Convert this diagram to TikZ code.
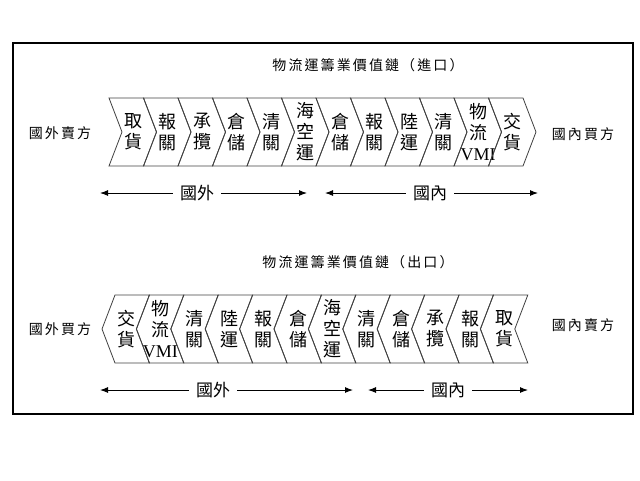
\documentclass[tikz,border=0pt]{standalone}
\usepackage{fontspec}
\newfontfamily\cjk{Noto Sans CJK TC}
\newfontfamily\cjksp[LetterSpace=15]{Noto Sans CJK TC}
\newfontfamily\vmifont{Liberation Serif}
\usetikzlibrary{arrows.meta}
\begin{document}
\begin{tikzpicture}[x=1pt, y=-1pt,
  chev/.style={draw=black!75, line width=0.8pt},
  stage/.style={font=\cjk\fontsize{18}{21}\selectfont, align=center, inner sep=0pt},
  party/.style={font=\cjksp\fontsize{14}{16}\selectfont, inner sep=0pt},
  heading/.style={font=\cjksp\fontsize{14}{16}\selectfont, inner sep=0pt},
  zone/.style={font=\cjk\fontsize{17}{19}\selectfont, inner xsep=7pt},
  span/.style={-{Latex[length=8pt,width=6pt]}, line width=1pt},
  ]
 \useasboundingbox (0,0) rectangle (640,480);
 \draw[line width=1.5pt] (13,43) rectangle (633,414);

 % import chain
 \node[heading] (titleimp) at (368,65) {物流運籌業價值鏈（進口）};
 \node[party] (sellerimp) at (60,133) {國外賣方};
 \node[party] (buyerimp) at (583,134) {國內買方};
 \foreach \lbl [count=\i] in {{取\\貨},{報\\關},{承\\攬},{倉\\儲},{清\\關},{海\\空\\運},{倉\\儲},{報\\關},{陸\\運},{清\\關},{物\\流\\{\vmifont VMI}},{交\\貨}} {
   \pgfmathsetmacro\xo{109+34.5*(\i-1)}
   \draw[chev] (\xo,98) -- ++(34.5,0) -- ++(13,34) -- ++(-13,34) -- ++(-34.5,0) -- ++(13,-34) -- cycle;
   \node[stage] (imp\i) at (\xo+24,132) {\lbl};
 }
 \node[zone] (abroadimp) at (197,193) {國外};
 \node[zone] (homeimp) at (430,193) {國內};
 \coordinate (a1) at (100,193);
 \coordinate (a2) at (307,193);
 \coordinate (a3) at (325,193);
 \coordinate (a4) at (538,193);
 \draw[span] (abroadimp) -- (a1);
 \draw[span] (abroadimp) -- (a2);
 \draw[span] (homeimp) -- (a3);
 \draw[span] (homeimp) -- (a4);

 % export chain
 \node[heading] (titleexp) at (358,262) {物流運籌業價值鏈（出口）};
 \node[party] (buyerexp) at (60,329) {國外買方};
 \node[party] (sellerexp) at (583,325) {國內賣方};
 \foreach \lbl [count=\i] in {{交\\貨},{物\\流\\{\vmifont VMI}},{清\\關},{陸\\運},{報\\關},{倉\\儲},{海\\空\\運},{清\\關},{倉\\儲},{承\\攬},{報\\關},{取\\貨}} {
   \pgfmathsetmacro\xo{115+34.4*(\i-1)}
   \draw[chev] (\xo,295) -- ++(34.4,0) -- ++(-13,34) -- ++(13,34) -- ++(-34.4,0) -- ++(-13,-34) -- cycle;
   \node[stage] (exp\i) at (\xo+11,329) {\lbl};
 }
 \node[zone] (abroadexp) at (213,390) {國外};
 \node[zone] (homeexp) at (448,390) {國內};
 \coordinate (b1) at (100,390);
 \coordinate (b2) at (353,390);
 \coordinate (b3) at (368,390);
 \coordinate (b4) at (528,390);
 \draw[span] (abroadexp) -- (b1);
 \draw[span] (abroadexp) -- (b2);
 \draw[span] (homeexp) -- (b3);
 \draw[span] (homeexp) -- (b4);
\end{tikzpicture}
\end{document}
